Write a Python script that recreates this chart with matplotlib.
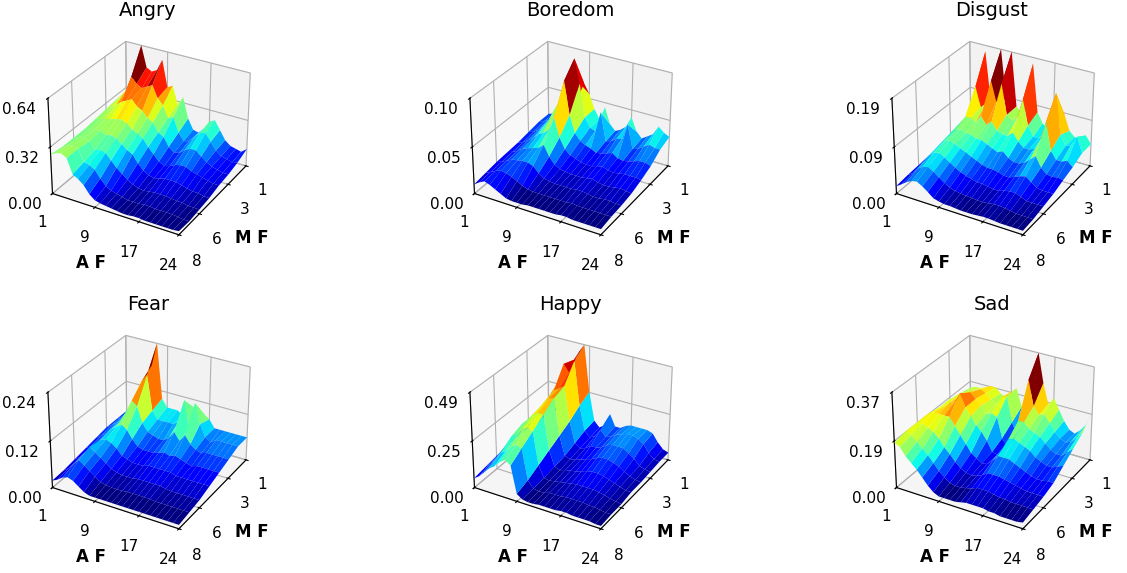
import numpy as np
import matplotlib
matplotlib.use("Agg")
import matplotlib.pyplot as plt
from matplotlib.ticker import FormatStrFormatter

a_frames = np.arange(1, 25)   # A F
m_frames = np.arange(1, 9)    # M F
x_ticks = [1, 9, 17, 24]
y_ticks = [1, 3, 6, 8]

# rows: M F = 1 .. 8 ; columns: A F = 1 .. 24
angry = [
    [0.30,0.36,0.45,0.642,0.50,0.48,0.50,0.58,0.40,0.42,0.30,0.36,0.22,0.15,0.14,0.18,0.24,0.26,0.20,0.14,0.11,0.10,0.09,0.12],
    [0.29,0.32,0.38,0.48,0.44,0.42,0.44,0.46,0.38,0.34,0.26,0.28,0.18,0.13,0.14,0.18,0.22,0.23,0.18,0.13,0.10,0.09,0.08,0.09],
    [0.28,0.30,0.33,0.36,0.38,0.40,0.36,0.34,0.30,0.28,0.22,0.20,0.14,0.11,0.12,0.15,0.17,0.17,0.14,0.11,0.09,0.08,0.07,0.07],
    [0.27,0.28,0.29,0.30,0.31,0.32,0.30,0.27,0.25,0.23,0.18,0.14,0.10,0.08,0.09,0.11,0.12,0.12,0.10,0.09,0.08,0.07,0.06,0.06],
    [0.26,0.27,0.28,0.28,0.26,0.27,0.26,0.23,0.20,0.18,0.13,0.09,0.07,0.06,0.07,0.08,0.08,0.08,0.07,0.06,0.05,0.05,0.04,0.04],
    [0.26,0.27,0.28,0.27,0.22,0.23,0.22,0.18,0.14,0.11,0.08,0.06,0.045,0.04,0.045,0.05,0.05,0.05,0.045,0.04,0.04,0.03,0.03,0.03],
    [0.26,0.28,0.29,0.28,0.20,0.19,0.17,0.12,0.08,0.06,0.05,0.04,0.03,0.03,0.03,0.035,0.035,0.03,0.03,0.03,0.03,0.025,0.02,0.02],
    [0.27,0.29,0.30,0.28,0.18,0.16,0.13,0.08,0.05,0.04,0.035,0.03,0.025,0.02,0.02,0.025,0.025,0.02,0.02,0.02,0.02,0.02,0.02,0.025],
]

boredom = [
    [0.020,0.022,0.025,0.028,0.032,0.040,0.050,0.065,0.055,0.040,0.030,0.045,0.028,0.022,0.025,0.030,0.042,0.028,0.022,0.026,0.030,0.040,0.035,0.032],
    [0.020,0.022,0.026,0.032,0.040,0.055,0.075,0.100,0.075,0.040,0.030,0.028,0.050,0.020,0.022,0.026,0.028,0.045,0.020,0.022,0.026,0.030,0.028,0.028],
    [0.018,0.020,0.024,0.030,0.038,0.050,0.060,0.085,0.050,0.032,0.025,0.022,0.020,0.017,0.018,0.020,0.022,0.018,0.017,0.018,0.020,0.022,0.022,0.020],
    [0.016,0.018,0.022,0.026,0.032,0.035,0.040,0.055,0.035,0.024,0.019,0.017,0.015,0.014,0.014,0.016,0.017,0.015,0.014,0.015,0.016,0.016,0.016,0.015],
    [0.015,0.017,0.020,0.024,0.026,0.028,0.030,0.035,0.024,0.017,0.014,0.013,0.012,0.012,0.012,0.013,0.014,0.012,0.011,0.011,0.012,0.013,0.012,0.011],
    [0.014,0.016,0.019,0.022,0.023,0.024,0.024,0.022,0.016,0.012,0.011,0.010,0.010,0.010,0.010,0.011,0.011,0.010,0.009,0.009,0.010,0.010,0.009,0.009],
    [0.012,0.015,0.018,0.020,0.019,0.017,0.014,0.011,0.009,0.008,0.008,0.008,0.008,0.008,0.008,0.008,0.009,0.008,0.008,0.008,0.008,0.008,0.008,0.008],
    [0.010,0.014,0.017,0.015,0.012,0.009,0.006,0.005,0.005,0.005,0.006,0.006,0.006,0.006,0.006,0.006,0.007,0.007,0.006,0.006,0.006,0.006,0.006,0.006],
]

disgust = [
    [0.035,0.045,0.070,0.175,0.080,0.080,0.187,0.090,0.187,0.080,0.070,0.080,0.175,0.080,0.060,0.050,0.050,0.070,0.090,0.060,0.050,0.050,0.060,0.045],
    [0.035,0.045,0.065,0.120,0.080,0.090,0.140,0.100,0.140,0.080,0.070,0.080,0.120,0.070,0.050,0.050,0.060,0.090,0.150,0.070,0.050,0.055,0.075,0.045],
    [0.030,0.040,0.060,0.075,0.075,0.070,0.085,0.070,0.080,0.065,0.060,0.060,0.070,0.055,0.045,0.045,0.050,0.070,0.110,0.055,0.040,0.040,0.045,0.035],
    [0.025,0.040,0.055,0.065,0.070,0.065,0.065,0.060,0.060,0.055,0.050,0.045,0.050,0.040,0.035,0.035,0.040,0.050,0.060,0.040,0.030,0.028,0.030,0.028],
    [0.022,0.035,0.050,0.060,0.065,0.060,0.055,0.050,0.045,0.040,0.035,0.032,0.032,0.030,0.026,0.026,0.030,0.035,0.038,0.030,0.022,0.020,0.020,0.020],
    [0.020,0.030,0.045,0.055,0.058,0.052,0.045,0.038,0.032,0.028,0.025,0.022,0.022,0.020,0.018,0.018,0.022,0.024,0.024,0.020,0.015,0.015,0.015,0.015],
    [0.018,0.026,0.038,0.045,0.048,0.042,0.034,0.026,0.020,0.017,0.015,0.014,0.013,0.012,0.012,0.013,0.015,0.015,0.014,0.012,0.010,0.010,0.010,0.010],
    [0.015,0.022,0.030,0.036,0.038,0.032,0.024,0.015,0.012,0.010,0.010,0.009,0.008,0.008,0.008,0.009,0.010,0.010,0.009,0.008,0.008,0.008,0.008,0.008],
]

fear = [
    [0.040,0.050,0.060,0.080,0.120,0.180,0.240,0.100,0.080,0.080,0.080,0.070,0.080,0.100,0.080,0.090,0.080,0.060,0.060,0.060,0.060,0.060,0.060,0.060],
    [0.040,0.050,0.060,0.080,0.110,0.160,0.180,0.090,0.070,0.070,0.070,0.070,0.080,0.140,0.070,0.140,0.090,0.060,0.050,0.060,0.060,0.060,0.060,0.060],
    [0.040,0.050,0.060,0.070,0.100,0.130,0.120,0.080,0.060,0.055,0.050,0.050,0.060,0.080,0.060,0.080,0.060,0.050,0.045,0.050,0.050,0.050,0.050,0.050],
    [0.035,0.045,0.055,0.070,0.080,0.090,0.080,0.060,0.045,0.040,0.040,0.040,0.045,0.050,0.045,0.050,0.045,0.040,0.035,0.040,0.040,0.040,0.040,0.040],
    [0.030,0.040,0.050,0.065,0.070,0.065,0.055,0.040,0.035,0.030,0.030,0.030,0.035,0.035,0.035,0.035,0.035,0.030,0.030,0.030,0.030,0.030,0.030,0.030],
    [0.025,0.035,0.050,0.070,0.060,0.050,0.040,0.030,0.025,0.022,0.022,0.022,0.025,0.025,0.025,0.025,0.025,0.022,0.020,0.020,0.020,0.020,0.020,0.020],
    [0.020,0.030,0.045,0.060,0.050,0.040,0.030,0.020,0.017,0.015,0.015,0.015,0.017,0.017,0.017,0.017,0.017,0.015,0.015,0.015,0.015,0.015,0.015,0.015],
    [0.018,0.025,0.035,0.040,0.035,0.025,0.015,0.010,0.010,0.010,0.010,0.010,0.010,0.010,0.010,0.010,0.010,0.010,0.010,0.010,0.010,0.010,0.010,0.010],
]

happy = [
    [0.06,0.08,0.12,0.18,0.30,0.40,0.45,0.494,0.25,0.10,0.07,0.09,0.16,0.10,0.10,0.12,0.13,0.13,0.13,0.13,0.12,0.08,0.05,0.04],
    [0.07,0.09,0.14,0.22,0.32,0.42,0.38,0.45,0.22,0.09,0.06,0.08,0.12,0.09,0.10,0.12,0.13,0.14,0.14,0.13,0.11,0.07,0.045,0.04],
    [0.08,0.10,0.15,0.22,0.28,0.32,0.34,0.36,0.18,0.07,0.05,0.06,0.08,0.08,0.09,0.11,0.12,0.12,0.12,0.10,0.08,0.05,0.04,0.035],
    [0.08,0.11,0.16,0.22,0.26,0.30,0.33,0.34,0.15,0.05,0.04,0.045,0.055,0.065,0.075,0.09,0.10,0.10,0.09,0.08,0.06,0.045,0.035,0.03],
    [0.08,0.11,0.16,0.22,0.25,0.28,0.30,0.30,0.12,0.04,0.03,0.04,0.045,0.05,0.06,0.07,0.075,0.075,0.07,0.06,0.05,0.04,0.03,0.03],
    [0.07,0.10,0.15,0.20,0.22,0.25,0.27,0.26,0.09,0.03,0.025,0.03,0.035,0.04,0.045,0.05,0.05,0.05,0.05,0.045,0.04,0.03,0.025,0.02],
    [0.06,0.09,0.12,0.16,0.18,0.21,0.23,0.22,0.06,0.025,0.02,0.02,0.03,0.03,0.03,0.035,0.035,0.035,0.035,0.03,0.03,0.025,0.02,0.02],
    [0.05,0.07,0.10,0.13,0.15,0.18,0.20,0.18,0.04,0.02,0.015,0.015,0.02,0.02,0.02,0.02,0.025,0.025,0.02,0.02,0.02,0.02,0.015,0.015],
]

sad = [
    [0.16,0.17,0.17,0.18,0.19,0.19,0.17,0.16,0.19,0.21,0.14,0.09,0.24,0.374,0.26,0.18,0.21,0.17,0.13,0.10,0.09,0.11,0.14,0.20],
    [0.17,0.18,0.19,0.20,0.21,0.20,0.18,0.17,0.20,0.21,0.11,0.06,0.16,0.30,0.20,0.17,0.18,0.15,0.12,0.10,0.09,0.10,0.12,0.15],
    [0.18,0.19,0.20,0.21,0.23,0.21,0.19,0.16,0.17,0.16,0.08,0.05,0.12,0.17,0.17,0.15,0.14,0.13,0.11,0.09,0.08,0.08,0.10,0.12],
    [0.18,0.19,0.21,0.22,0.26,0.21,0.18,0.15,0.13,0.10,0.06,0.055,0.09,0.13,0.14,0.13,0.12,0.11,0.09,0.08,0.07,0.07,0.08,0.09],
    [0.19,0.20,0.20,0.20,0.20,0.17,0.14,0.11,0.08,0.065,0.05,0.055,0.075,0.10,0.10,0.10,0.09,0.08,0.07,0.06,0.055,0.055,0.06,0.06],
    [0.19,0.19,0.18,0.17,0.15,0.12,0.10,0.075,0.055,0.045,0.04,0.045,0.055,0.07,0.07,0.07,0.065,0.06,0.055,0.05,0.045,0.045,0.045,0.045],
    [0.19,0.18,0.16,0.14,0.12,0.095,0.07,0.05,0.035,0.03,0.03,0.035,0.04,0.05,0.05,0.05,0.045,0.04,0.04,0.035,0.035,0.035,0.035,0.035],
    [0.18,0.17,0.14,0.12,0.10,0.075,0.05,0.03,0.02,0.02,0.02,0.02,0.025,0.03,0.03,0.03,0.03,0.025,0.025,0.02,0.02,0.02,0.02,0.025],
]

titles = ["Angry", "Boredom", "Disgust", "Fear", "Happy", "Sad"]
data = [angry, boredom, disgust, fear, happy, sad]

fig = plt.figure(figsize=(11.27, 5.73), dpi=100)
S = 225
W, H = 1127, 573
centers_x = [148, 570, 992]
tops = [24, 318]

# M F = 1 drawn at the back, M F = 8 at the front
y_pos = 9 - m_frames
X, Y = np.meshgrid(a_frames, y_pos)
for k, (t, z) in enumerate(zip(titles, data)):
    r, c = divmod(k, 3)
    left = (centers_x[c] - S / 2) / W
    bottom = 1 - (tops[r] + S) / H
    ax = fig.add_axes([left, bottom, S / W, S / H], projection='3d')
    Z = np.array(z)
    zmax = Z.max()
    ax.plot_surface(X, Y, Z, cmap='jet', rstride=1, cstride=1)
    ax.set_xlim(1, 24)
    ax.set_ylim(1, 8)
    ax.set_zlim(0, zmax)
    ax.set_xticks(x_ticks)
    ax.set_yticks([9 - v for v in y_ticks])
    ax.set_yticklabels([str(v) for v in y_ticks])
    ax.set_zticks(np.linspace(0, zmax, 3))
    ax.zaxis.set_major_formatter(FormatStrFormatter('%.2f'))
    ax.zaxis.set_ticks_position('lower')
    ax.zaxis.set_label_position('lower')
    ax.tick_params(labelsize=11)
    ax.set_xlabel('A F', fontweight='bold', fontsize=12)
    ax.set_ylabel('M F', fontweight='bold', fontsize=12)
    ax.set_title(t, fontsize=14)

fig.savefig('out.png', dpi=100)
